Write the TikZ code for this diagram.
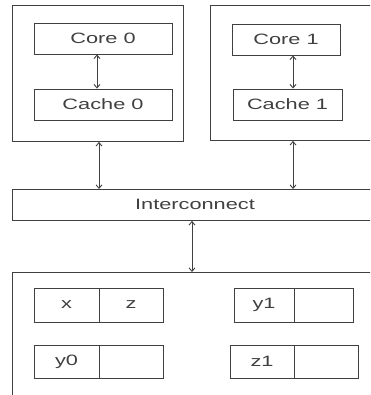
\documentclass[tikz,border=0pt]{standalone}
\usepackage{fontspec}
\setmainfont{Liberation Sans}[FakeStretch=1.45]
\usetikzlibrary{arrows.meta}
\begin{document}
\begin{tikzpicture}[x=1pt,y=-1pt,
  line width=0.9pt,
  every node/.style={font=\fontsize{15}{18}\selectfont, text=black!75},
  frame/.style={draw=black!75, inner sep=0pt, anchor=north west},
  unit/.style={draw=black!75, inner sep=0pt},
  link/.style={draw=black!75, {Straight Barb[length=3.5pt,width=6pt]}-{Straight Barb[length=3.5pt,width=6pt]}}]
\useasboundingbox (0,0) rectangle (370,395);
\clip (0,0) rectangle (370,395);

% processor blocks
\node[frame, minimum width=171pt, minimum height=136pt] (p0) at (12,5) {};
\node[frame, minimum width=164pt, minimum height=135pt] (p1) at (210,5) {};

\node[unit, minimum width=138pt, minimum height=31pt] (core0)  at (103,38.5) {Core 0};
\node[unit, minimum width=138pt, minimum height=31pt] (cache0) at (103,104.5) {Cache 0};
\node[unit, minimum width=108pt, minimum height=31pt] (core1)  at (286,39.5) {Core 1};
\node[unit, minimum width=109pt, minimum height=31pt] (cache1) at (287.5,104.5) {Cache 1};

% interconnect and memory
\node[frame, minimum width=364pt, minimum height=31pt] (ic) at (12,189) {};
\node at (195,204.5) {Interconnect};
\node[frame, minimum width=364pt, minimum height=130pt] (mem) at (12,272) {};

% memory words
\node[unit, minimum width=65pt, minimum height=34pt] (x)  at (66.5,305) {x};
\node[unit, minimum width=64pt, minimum height=34pt] (z)  at (131,305) {z};
\node[unit, minimum width=65pt, minimum height=33pt] (y0) at (66.5,361.5) {y0};
\node[unit, minimum width=64pt, minimum height=33pt] (e0) at (131,361.5) {};
\node[unit, minimum width=60pt, minimum height=34pt] (y1) at (264,305) {y1};
\node[unit, minimum width=59pt, minimum height=34pt] (e1) at (323.5,305) {};
\node[unit, minimum width=64pt, minimum height=33pt] (z1) at (262,361.5) {z1};
\node[unit, minimum width=64pt, minimum height=33pt] (e2) at (326,361.5) {};

% connections
\draw[link] (core0.south -| 97,0) -- (cache0.north -| 97,0);
\draw[link] (core1.south -| 293,0) -- (cache1.north -| 293,0);
\draw[link] (p0.south -| 99,0) -- (ic.north -| 99,0);
\draw[link] (p1.south -| 293,0) -- (ic.north -| 293,0);
\draw[link] (ic.south -| 192,0) -- (mem.north -| 192,0);
\end{tikzpicture}
\end{document}
